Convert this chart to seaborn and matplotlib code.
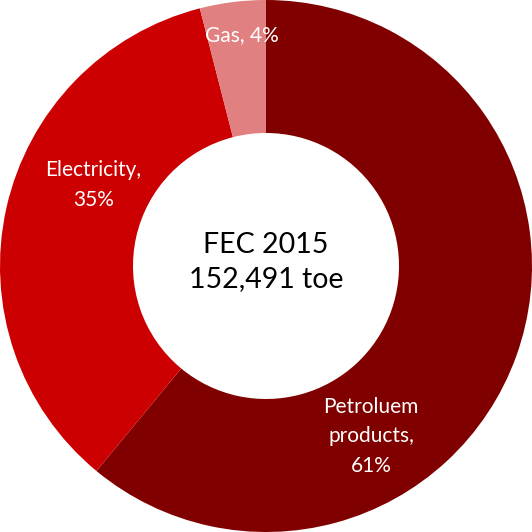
import matplotlib
matplotlib.use("Agg")
import matplotlib.pyplot as plt
import seaborn as sns

sns.set_theme(style="white")
plt.rcParams["font.family"] = ["Lato", "DejaVu Sans"]

# Final energy consumption shares, 2015
categories = ["Petroluem\nproducts", "Electricity", "Gas"]
shares = [61, 35, 4]
colors = ["#800000", "#CC0000", "#E08080"]
total_toe = 152491
year = 2015

# label anchor points (data units, unit outer radius)
label_pos = [(0.395, -0.64), (-0.65, 0.305), (-0.09, 0.868)]

fig = plt.figure(figsize=(5.32, 5.32), dpi=100)
ax = fig.add_axes([0, 0, 1, 1])

wedges, _ = ax.pie(
    shares,
    colors=colors,
    startangle=90,
    counterclock=False,
    radius=1.0,
    wedgeprops=dict(width=0.5, edgecolor="none", linewidth=0),
)

for name, val, (x, y) in zip(categories, shares, label_pos):
    sep = "\n" if "\n" in name or name == "Electricity" else " "
    text = f"{name},{sep}{val}%"
    ax.text(x, y, text, ha="center", va="center", color="white",
            fontsize=15, linespacing=1.6)

ax.text(0, 0.015, f"FEC {year}\n{total_toe:,} toe", ha="center", va="center",
        color="black", fontsize=20.5, linespacing=1.35)

ax.set_xlim(-1.0, 1.0)
ax.set_ylim(-1.0, 1.0)
ax.set_aspect("equal")
ax.axis("off")

fig.savefig("out.png", dpi=100, facecolor="white")
